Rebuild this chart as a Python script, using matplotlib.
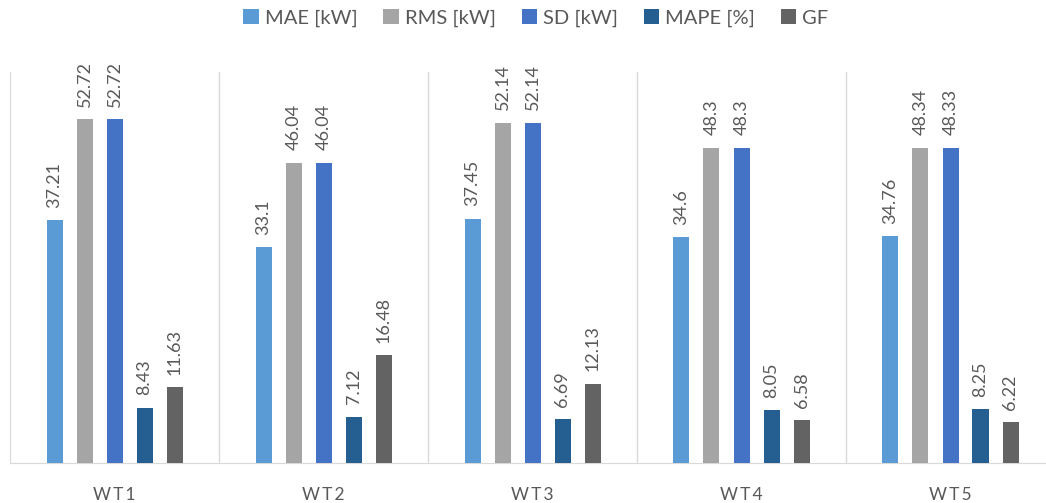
import matplotlib
matplotlib.use("Agg")
import matplotlib.pyplot as plt
import numpy as np

categories = ["WT1", "WT2", "WT3", "WT4", "WT5"]
series_names = ["MAE [kW]", "RMS [kW]", "SD [kW]", "MAPE [%]", "GF"]
mae = [37.21, 33.1, 37.45, 34.6, 34.76]
rms = [52.72, 46.04, 52.14, 48.3, 48.34]
sd = [52.72, 46.04, 52.14, 48.3, 48.33]
mape = [8.43, 7.12, 6.69, 8.05, 8.25]
gf = [11.63, 16.48, 12.13, 6.58, 6.22]
colors = ["#5B9BD5", "#A5A5A5", "#4472C4", "#255E91", "#636363"]

plt.rcParams["font.family"] = ["Lato", "DejaVu Sans"]

W, H = 1046, 503
fig = plt.figure(figsize=(W / 100, H / 100), dpi=100)
left, right, bottom, top = 10, 1055, 463, 71.5
ax = fig.add_axes([left / W, (H - bottom) / H, (right - left) / W, (bottom - top) / H])

x = np.arange(len(categories))
step = 30 / 209
width = 16 / 209
all_series = [mae, rms, sd, mape, gf]
for i, (vals, name, c) in enumerate(zip(all_series, series_names, colors)):
    pos = x + (i - 2) * step
    bars = ax.bar(pos, vals, width=width, color=c, label=name, zorder=3)
    for b, v in zip(bars, vals):
        ax.annotate(f"{v:g}", (b.get_x() + b.get_width() / 2, v),
                    xytext=(0, 9), textcoords="offset points",
                    rotation=90, ha="center", va="bottom",
                    fontsize=13, color="#595959")

ax.set_xlim(-0.5, len(categories) - 0.5)
ax.set_ylim(0, 60)
ax.set_yticks([])
ax.set_xticks(x)
# letter-spaced category labels
ax.set_xticklabels(["\u2009".join(c) for c in categories], fontsize=12.5, color="#595959")
ax.tick_params(axis="x", length=0, pad=17)
for s in ["top", "right"]:
    ax.spines[s].set_visible(False)
ax.spines["left"].set_color("#D9D9D9")
ax.spines["bottom"].set_color("#D9D9D9")
for k in range(1, len(categories)):
    ax.axvline(k - 0.5, color="#D9D9D9", lw=1, zorder=1)

fig.legend(loc="center", bbox_to_anchor=(536 / W, 1 - 18 / H), ncol=5,
           frameon=False, fontsize=14.5, handlelength=0.75, handleheight=0.75,
           handletextpad=0.3, columnspacing=1.3, labelcolor="#595959")

fig.savefig("out.png", dpi=100)
